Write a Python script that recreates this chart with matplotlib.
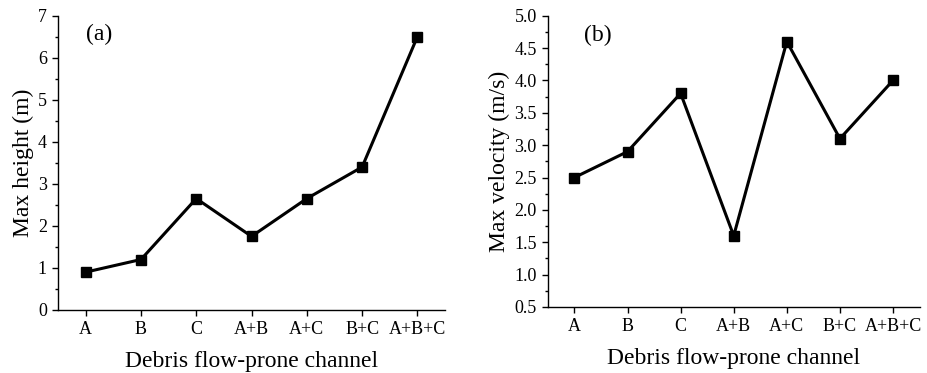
import matplotlib
matplotlib.use("Agg")
import matplotlib.pyplot as plt
from matplotlib.ticker import MultipleLocator

plt.rcParams['font.family'] = ['Liberation Serif', 'DejaVu Serif']

channels = ['A', 'B', 'C', 'A+B', 'A+C', 'B+C', 'A+B+C']
max_height = [0.9, 1.2, 2.65, 1.75, 2.65, 3.4, 6.5]
max_velocity = [2.5, 2.9, 3.8, 1.6, 4.6, 3.1, 4.0]

fig = plt.figure(figsize=(9.27, 3.73), dpi=100)
ax1 = fig.add_axes([0.0626, 0.169, 0.4175, 0.789])
ax2 = fig.add_axes([0.591, 0.177, 0.401, 0.781])


def style(ax, values, ylabel, ylim, major, minor, tag, tag_xy):
    x = range(len(channels))
    ax.plot(x, values, color='black', lw=2.2, marker='s', ms=7)
    ax.set_xlim(-0.5, 6.5)
    ax.set_ylim(*ylim)
    ax.set_xticks(list(x))
    ax.set_xticklabels(channels)
    ax.yaxis.set_major_locator(MultipleLocator(major))
    ax.yaxis.set_minor_locator(MultipleLocator(minor))
    for s in ['top', 'right']:
        ax.spines[s].set_visible(False)
    for s in ['left', 'bottom']:
        ax.spines[s].set_linewidth(1.0)
    ax.tick_params(which='major', direction='out', length=4, width=1, labelsize=13, pad=4)
    ax.tick_params(which='minor', direction='out', length=2.5, width=1)
    ax.set_xlabel('Debris flow-prone channel', fontsize=17, labelpad=9)
    ax.set_ylabel(ylabel, fontsize=17, labelpad=3)
    ax.text(tag_xy[0], tag_xy[1], tag, fontsize=17, ha='center', va='center')


style(ax1, max_height, 'Max height (m)', (0, 7), 1, 0.5, '(a)', (0.25, 6.55))
ax1.yaxis.set_major_formatter(plt.FormatStrFormatter('%d'))
style(ax2, max_velocity, 'Max velocity (m/s)', (0.5, 5.0), 0.5, 0.25, '(b)', (0.45, 4.7))
ax2.yaxis.set_major_formatter(plt.FormatStrFormatter('%.1f'))

fig.savefig('out.png', dpi=100)
